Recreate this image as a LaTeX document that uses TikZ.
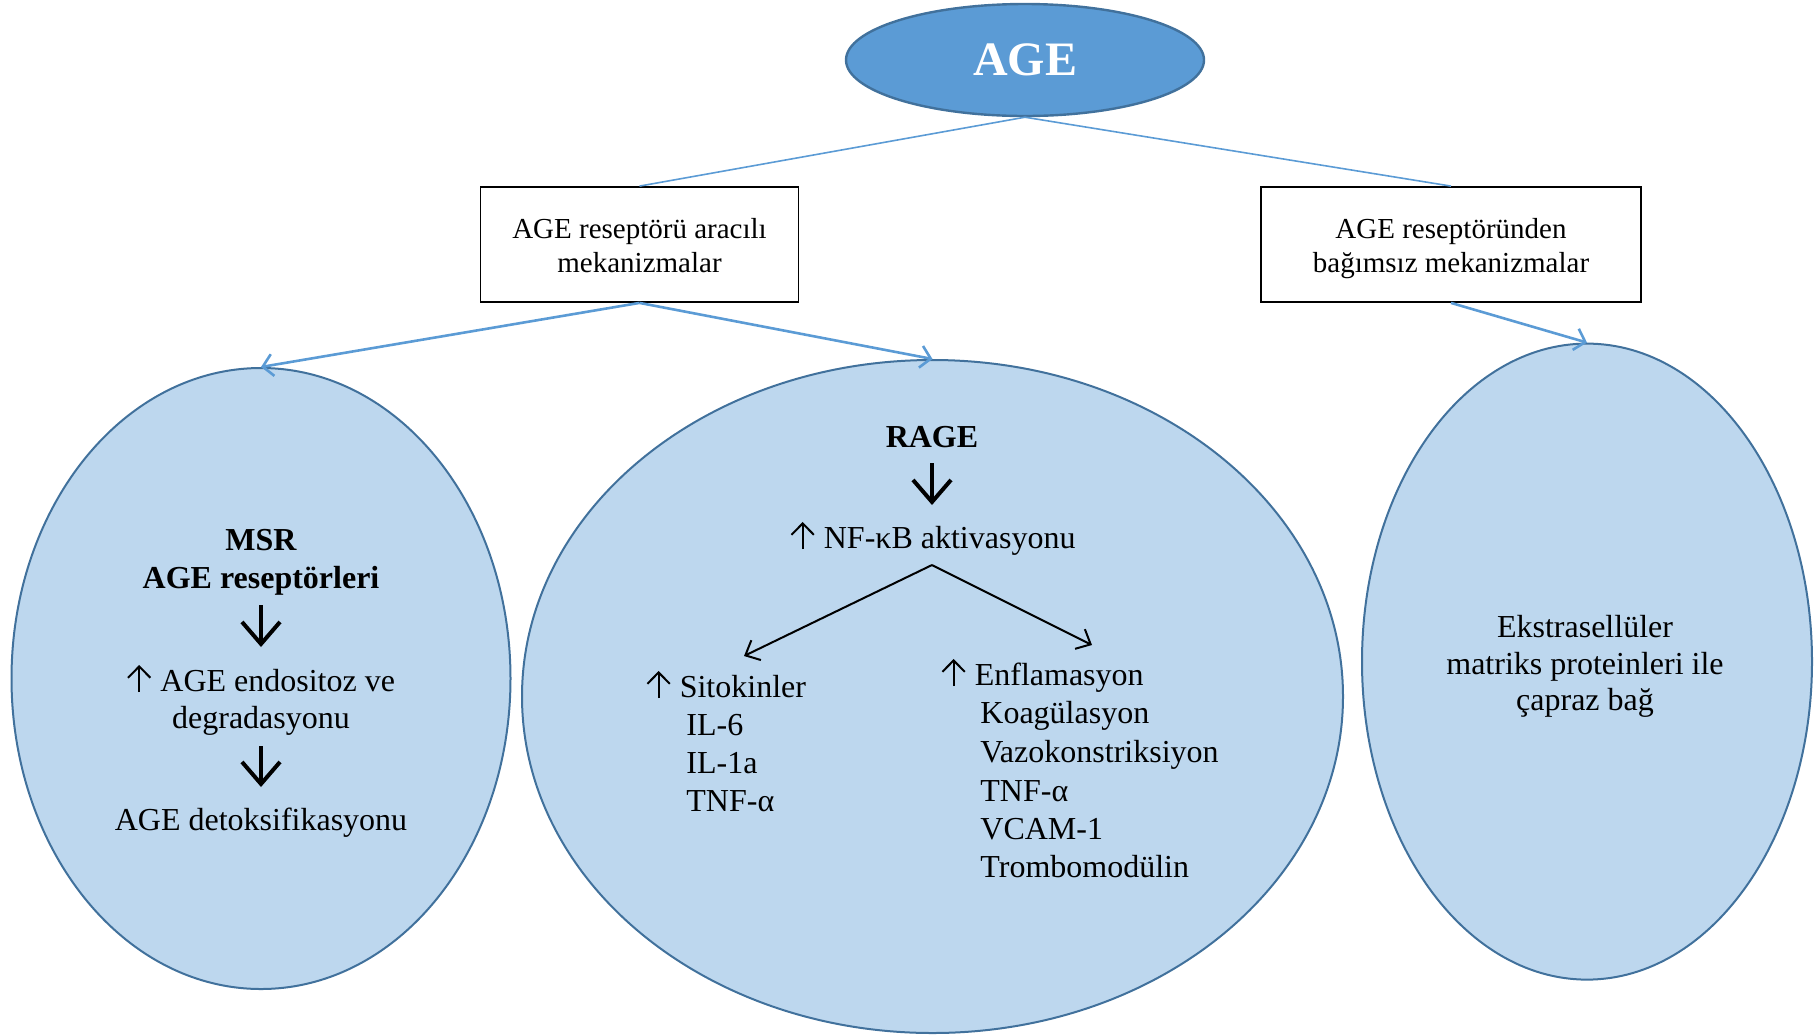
\documentclass[tikz,border=0pt]{standalone}
\usepackage{fontspec}
\setmainfont{Liberation Serif}
\usetikzlibrary{shapes.geometric,arrows.meta}
\newcommand{\upar}{\begin{tikzpicture}[x=1pt,y=1pt,baseline=0pt]\draw[line width=1pt,line join=miter] (6,-0.5) -- (6,12.3); \draw[line width=1pt,line join=miter] (0.4,6.6) -- (6,12.3) -- (11.6,6.6);\end{tikzpicture}\hspace{4.5pt}}
\definecolor{agefill}{HTML}{5B9BD5}
\definecolor{ageline}{HTML}{41719C}
\definecolor{cellfill}{HTML}{BDD7EE}
\definecolor{linkblue}{HTML}{5B9BD5}
\begin{document}
\begin{tikzpicture}[x=0.5pt,y=-0.5pt,
 oval/.style={ellipse, draw=ageline, line width=1pt, fill=cellfill, inner sep=0pt},
 box/.style={draw=black, line width=0.9pt, fill=white, inner sep=0pt},
 boxtext/.style={font=\fontsize{14.5}{17.5}\selectfont, inner sep=0pt, anchor=base},
 body/.style={font=\fontsize{16}{19.2}\selectfont, inner sep=0pt, anchor=base},
 bodyl/.style={body, anchor=base west},
 bold/.style={body, font=\fontsize{16}{19.2}\selectfont\bfseries},
 tie/.style={draw=linkblue, line width=0.8pt},
 link/.style={draw=linkblue, line width=1.3pt, -{Straight Barb[length=5pt,width=11pt]}},
 bigarrow/.style={draw=black, line width=2pt, -{Straight Barb[length=11pt,width=19pt]}},
 branch/.style={draw=black, line width=1pt, -{Straight Barb[length=6pt,width=11pt]}}]
\useasboundingbox (0,0) rectangle (1820,1035);
% ovals
\node[oval, minimum width=249.5pt, minimum height=310.5pt] (lefto) at (261,678.5) {};
\node[oval, minimum width=410.5pt, minimum height=336.5pt] (mido) at (932.5,696.5) {};
\node[oval, minimum width=225pt, minimum height=318pt] (righto) at (1587,661.6) {};
% top
\node[ellipse, draw=ageline, line width=1.2pt, fill=agefill, minimum width=179pt, minimum height=56pt, inner sep=0pt, text=white, font=\fontsize{24}{28}\selectfont\bfseries] (age) at (1025,60) {AGE};
\node[box, minimum width=159pt, minimum height=57.5pt] (box1) at (639.5,244.5) {};
\node[box, minimum width=190pt, minimum height=57.5pt] (box2) at (1451,244.5) {};
\node[boxtext] (b1a) at (639.5,238) {AGE reseptörü aracılı};
\node[boxtext] (b1b) at (639.5,272) {mekanizmalar};
\node[boxtext] (b2a) at (1451,238) {AGE reseptöründen};
\node[boxtext] (b2b) at (1451,272) {bağımsız mekanizmalar};
\draw[tie] (age.south) -- (box1.north);
\draw[tie] (age.south) -- (box2.north);
\draw[link] (box1.south) -- (lefto.north);
\draw[link] (box1.south) -- (mido.north);
\draw[link] (box2.south) -- (righto.north);
% left oval text
\node[bold] (msr) at (261,550) {MSR};
\node[bold] (msr2) at (261,588) {AGE reseptörleri};
\node[body] (endo) at (261,691) {\upar AGE endositoz ve};
\node[body] (degr) at (261,728) {degradasyonu};
\node[body] (detox) at (261,830) {AGE detoksifikasyonu};
\coordinate (a1s) at (261,605);
\coordinate (a1e) at (261,647);
\coordinate (a2s) at (261,746);
\coordinate (a2e) at (261,787);
\draw[bigarrow] (a1s) -- (a1e);
\draw[bigarrow] (a2s) -- (a2e);
% middle oval text
\node[bold] (rage) at (932,447) {RAGE};
\node[body] (nfkb) at (933,548) {\upar NF-κB aktivasyonu};
\coordinate (a3s) at (932,463);
\coordinate (a3e) at (932,505);
\draw[bigarrow] (a3s) -- (a3e);
\coordinate (br) at (932,565);
\coordinate (brl) at (744,656);
\coordinate (brr) at (1092,645);
\draw[branch] (br) -- (brl);
\draw[branch] (br) -- (brr);
\node[bodyl] (s1) at (646,697) {\upar Sitokinler};
\node[bodyl] (s2) at (686,735) {IL-6};
\node[bodyl] (s3) at (686,773) {IL-1a};
\node[bodyl] (s4) at (686,811) {TNF-α};
\node[bodyl] (e1) at (941,685) {\upar Enflamasyon};
\node[bodyl] (e2) at (980,723) {Koagülasyon};
\node[bodyl] (e3) at (980,762) {Vazokonstriksiyon};
\node[bodyl] (e4) at (980,801) {TNF-α};
\node[bodyl] (e5) at (980,839) {VCAM-1};
\node[bodyl] (e6) at (980,877) {Trombomodülin};
% right oval text
\node[body] (x1) at (1585,637) {Ekstrasellüler};
\node[body] (x2) at (1585,674) {matriks proteinleri ile};
\node[body] (x3) at (1585,710) {çapraz bağ};
\end{tikzpicture}
\end{document}
